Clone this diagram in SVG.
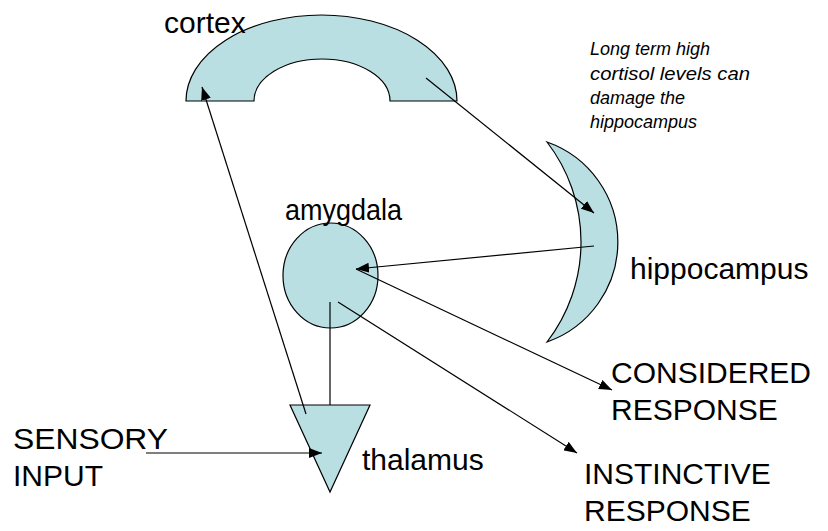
<svg xmlns="http://www.w3.org/2000/svg" width="828" height="531" viewBox="0 0 828 531">
<style>
.shape{fill:#B9DFE3;stroke:#000;stroke-width:1.2}
.lbl{font-family:"Liberation Sans",Arial,sans-serif;font-size:30px;fill:#000}
.note{font-family:"Liberation Sans",Arial,sans-serif;font-size:18px;font-style:italic;fill:#000}
.conn{stroke:#000;stroke-width:1.2;fill:none}
</style>
<defs>
<marker id="arr" markerUnits="userSpaceOnUse" markerWidth="13" markerHeight="10" viewBox="0 0 13 10" refX="13" refY="5" orient="auto">
<path d="M0,0 L13,5 L0,10 z" fill="#000"/>
</marker>
</defs>
<rect width="828" height="531" fill="#fff"/>
<g id="cortex">
<path class="shape" d="M186,101 A135.5,86 0 0 1 457,101 L390,101 A68,42 0 0 0 254,101 Z"/>
<text class="lbl" x="164" y="33" font-size="28">cortex</text>
</g>
<g id="hippocampus">
<path class="shape" d="M547,142 A106,106 0 0 1 547,342 A164,164 0 0 0 547,142 Z"/>
<text class="lbl" x="630" y="279" font-size="27.5">hippocampus</text>
</g>
<g id="amygdala">
<ellipse class="shape" cx="330.5" cy="275.5" rx="47.5" ry="52.5"/>
<text class="lbl" x="285" y="220" font-size="28" textLength="117" lengthAdjust="spacingAndGlyphs">amygdala</text>
</g>
<g id="thalamus">
<polygon class="shape" points="290,405 370,405 330,492"/>
<text class="lbl" x="362" y="470" font-size="31">thalamus</text>
</g>
<g id="sensory">
<text class="lbl" x="13" y="449" font-size="31" textLength="155" lengthAdjust="spacingAndGlyphs">SENSORY</text>
<text class="lbl" x="13" y="486" font-size="31">INPUT</text>
</g>
<g id="considered">
<text class="lbl" x="611" y="383">CONSIDERED</text>
<text class="lbl" x="611" y="420">RESPONSE</text>
</g>
<g id="instinctive">
<text class="lbl" x="584" y="484">INSTINCTIVE</text>
<text class="lbl" x="584" y="521">RESPONSE</text>
</g>
<g id="note">
<text class="note" x="590" y="55">Long term high</text>
<text class="note" x="590" y="80" textLength="160" lengthAdjust="spacingAndGlyphs">cortisol  levels can</text>
<text class="note" x="590" y="104">damage the</text>
<text class="note" x="590" y="128">hippocampus</text>
</g>
<g id="connectors">
<line class="conn" x1="306" y1="414" x2="202" y2="87" marker-end="url(#arr)"/>
<line class="conn" x1="426" y1="78" x2="594" y2="213" marker-end="url(#arr)"/>
<line class="conn" x1="594" y1="246" x2="356" y2="269" marker-end="url(#arr)"/>
<line class="conn" x1="356" y1="269" x2="612" y2="390" marker-end="url(#arr)"/>
<line class="conn" x1="338" y1="302" x2="577" y2="453" marker-end="url(#arr)"/>
<line class="conn" x1="330" y1="302" x2="330" y2="405"/>
<line class="conn" x1="146" y1="453" x2="322" y2="453" marker-end="url(#arr)"/>
</g>
</svg>
